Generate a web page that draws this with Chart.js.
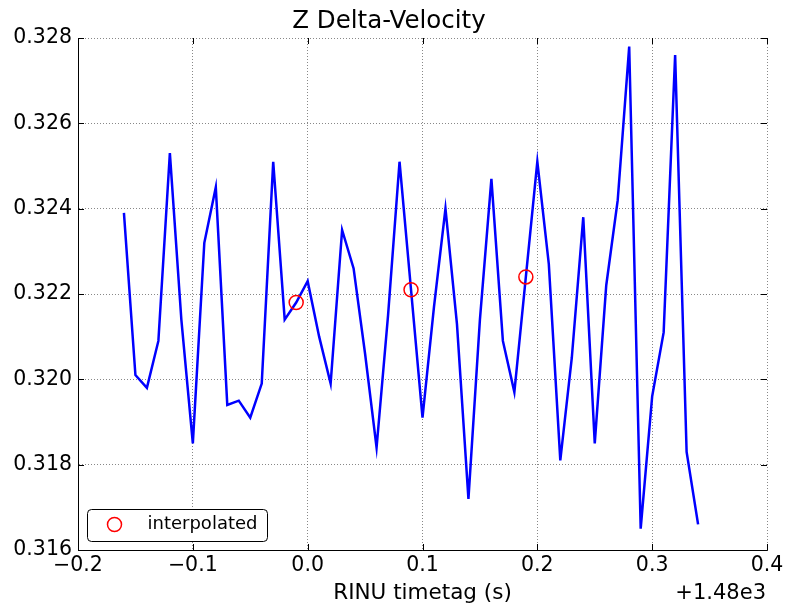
<!DOCTYPE html>
<html>
<head>
<meta charset="utf-8">
<script src="https://cdn.jsdelivr.net/npm/chart.js@4/dist/chart.umd.min.js"></script>
<style>
    html, body { margin: 0; padding: 0; background: #fff; }
    #wrap { width: 787px; height: 607px; }
</style>
</head>
<body>
<div id="wrap"><canvas id="chart"></canvas></div>
<script>
// time offsets from +1.48e3 s
const timeOffsets = [
    -0.16, -0.15, -0.14, -0.13, -0.12, -0.11, -0.10, -0.09, -0.08, -0.07,
    -0.06, -0.05, -0.04, -0.03, -0.02, -0.01, 0.00, 0.01, 0.02, 0.03,
    0.04, 0.05, 0.06, 0.07, 0.08, 0.09, 0.10, 0.11, 0.12, 0.13,
    0.14, 0.15, 0.16, 0.17, 0.18, 0.19, 0.20, 0.21, 0.22, 0.23,
    0.24, 0.25, 0.26, 0.27, 0.28, 0.29, 0.30, 0.31, 0.32, 0.33, 0.34
]
const deltaVelocity = [
    0.3239, 0.3201, 0.3198, 0.3209, 0.3253, 0.3214, 0.3185, 0.3232, 0.3245, 0.3194,
    0.3195, 0.3191, 0.3199, 0.3251, 0.3214, 0.3218, 0.3223, 0.3210, 0.3199, 0.3235,
    0.3226, 0.3206, 0.3184, 0.3215, 0.3251, 0.3221, 0.3191, 0.3217, 0.3240, 0.3213,
    0.3172, 0.3214, 0.3247, 0.3209, 0.3197, 0.3224, 0.3251, 0.3227, 0.3181, 0.3205,
    0.3238, 0.3185, 0.3222, 0.3242, 0.3278, 0.3165, 0.3196, 0.3211, 0.3276, 0.3183, 0.3166
]
const interpTimes = [-0.01, 0.09, 0.19]
const interpValues = [0.3218, 0.3221, 0.3224]

const xTicks = [-0.2, -0.1, 0.0, 0.1, 0.2, 0.3, 0.4]
const yTicks = [0.316, 0.318, 0.320, 0.322, 0.324, 0.326, 0.328]

const FONT = 'DejaVu Sans'

const fmtX = (v) => {
    const r = Math.round(v * 10) / 10
    return (r < 0 ? '\u2212' : '') + Math.abs(r).toFixed(1)
}

// title, axis label, offset text, inward ticks and legend box
const decorations = {
    id: 'decorations',
    afterDatasetsDraw(chart) {
        const {ctx, chartArea: a, scales: {x, y}} = chart
        ctx.save()
        ctx.strokeStyle = '#000'
        ctx.lineWidth = 1
        ctx.beginPath()
        xTicks.forEach(v => {
            const px = Math.round(x.getPixelForValue(v)) + 0.5
            ctx.moveTo(px, a.bottom); ctx.lineTo(px, a.bottom - 6)
            ctx.moveTo(px, a.top); ctx.lineTo(px, a.top + 6)
        })
        yTicks.forEach(v => {
            const py = Math.round(y.getPixelForValue(v)) + 0.5
            ctx.moveTo(a.left, py); ctx.lineTo(a.left + 6, py)
            ctx.moveTo(a.right, py); ctx.lineTo(a.right - 6, py)
        })
        ctx.stroke()

        // legend
        const ds = chart.data.datasets[1]
        const bx = 87.5, by = 509.5, bw = 180, bh = 32
        ctx.beginPath()
        ctx.roundRect(bx, by, bw, bh, 4)
        ctx.fillStyle = '#fff'
        ctx.fill()
        ctx.strokeStyle = '#000'
        ctx.stroke()
        ctx.beginPath()
        ctx.arc(bx + 27, by + 15, ds.pointRadius, 0, Math.PI * 2)
        ctx.strokeStyle = ds.borderColor
        ctx.lineWidth = ds.pointBorderWidth
        ctx.stroke()
        ctx.fillStyle = '#000'
        ctx.font = '18px "' + FONT + '"'
        ctx.textAlign = 'left'
        ctx.textBaseline = 'middle'
        ctx.fillText(ds.label, bx + 60, by + 15)

        // texts
        ctx.textBaseline = 'alphabetic'
        ctx.textAlign = 'center'
        ctx.font = '24.5px "' + FONT + '"'
        ctx.fillText('Z Delta-Velocity', 389, 28)
        ctx.font = '21.5px "' + FONT + '"'
        ctx.fillText('RINU timetag (s)', (a.left + a.right) / 2, 599)
        ctx.font = '21px "' + FONT + '"'
        ctx.textAlign = 'right'
        ctx.fillText('+1.48e3', a.right - 1, 599)
        ctx.restore()
    }
}

const gridStyle = {
    color: '#555',
    lineWidth: 0.7,
    drawTicks: false
}

new Chart(document.getElementById('chart'), {
    type: 'line',
    plugins: [decorations],
    data: {
        datasets: [
            {
                label: 'Z Delta-Velocity',
                data: timeOffsets.map((t, i) => ({x: t, y: deltaVelocity[i]})),
                borderColor: '#0000ff',
                borderWidth: 2.5,
                pointRadius: 0,
                tension: 0,
                order: 2
            },
            {
                label: 'interpolated',
                data: interpTimes.map((t, i) => ({x: t, y: interpValues[i]})),
                showLine: false,
                borderColor: '#ff0000',
                backgroundColor: 'rgba(0,0,0,0)',
                pointRadius: 7,
                pointBorderWidth: 1.5,
                pointBorderColor: '#ff0000',
                order: 1
            }
        ]
    },
    options: {
        responsive: true,
        maintainAspectRatio: false,
        animation: false,
        layout: {padding: {top: 38, right: 20, left: 0, bottom: 0}},
        plugins: {
            legend: {display: false},
            title: {display: false},
            tooltip: {enabled: false}
        },
        scales: {
            x: {
                type: 'linear',
                min: -0.2,
                max: 0.4,
                afterBuildTicks(scale) { scale.ticks = xTicks.map(v => ({value: v})) },
                afterFit(scale) { scale.height = 57 },
                ticks: {
                    callback: fmtX,
                    color: '#000',
                    font: {family: FONT, size: 20.5},
                    padding: 3,
                    maxRotation: 0
                },
                grid: {...gridStyle},
                border: {display: true, color: '#000', width: 1, dash: [1, 2]}
            },
            y: {
                min: 0.316,
                max: 0.328,
                afterBuildTicks(scale) { scale.ticks = yTicks.map(v => ({value: v})) },
                afterFit(scale) { scale.width = 78 },
                ticks: {
                    callback: v => v.toFixed(3),
                    color: '#000',
                    font: {family: FONT, size: 20.5},
                    padding: 6
                },
                grid: {...gridStyle},
                border: {display: true, color: '#000', width: 1, dash: [1, 2]}
            }
        }
    }
})
</script>
</body>
</html>
